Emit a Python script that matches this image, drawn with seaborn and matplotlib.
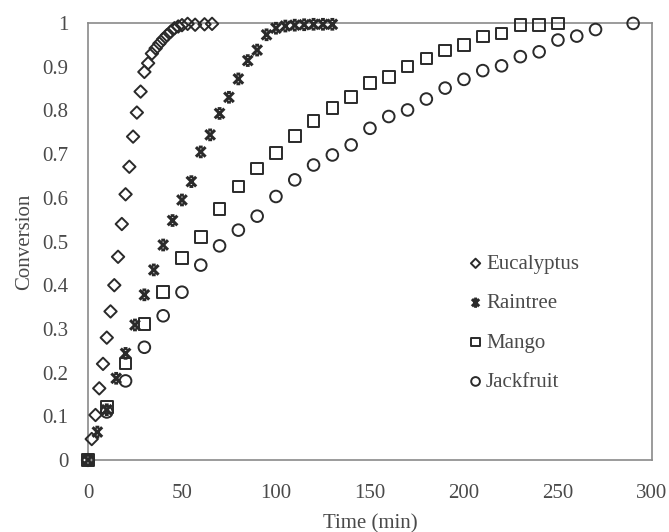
import numpy as np
import pandas as pd
import matplotlib
matplotlib.use("Agg")
import matplotlib.pyplot as plt
from matplotlib.path import Path
from matplotlib.ticker import FuncFormatter, MultipleLocator
import seaborn as sns

# values
euc_time = [0, 2, 4, 6, 8, 10, 12, 14, 16, 18, 20, 22, 24, 26, 28, 30, 32, 34,
            36, 38, 40, 42, 44, 46, 48, 50, 53, 57, 62, 66]
euc_conv = [0, 0.048, 0.103, 0.164, 0.22, 0.28, 0.34, 0.40, 0.465, 0.54, 0.608,
            0.671, 0.74, 0.795, 0.843, 0.888, 0.908, 0.93, 0.942, 0.953, 0.963,
            0.972, 0.98, 0.988, 0.992, 0.995, 0.998, 0.996, 0.997, 0.998]

rain_time = [0, 5, 10, 15, 20, 25, 30, 35, 40, 45, 50, 55, 60, 65, 70, 75, 80,
             85, 90, 95, 100, 105, 110, 115, 120, 125, 130]
rain_conv = [0, 0.064, 0.115, 0.187, 0.244, 0.309, 0.378, 0.435, 0.492, 0.548,
             0.595, 0.637, 0.705, 0.744, 0.793, 0.83, 0.872, 0.914, 0.938,
             0.973, 0.988, 0.993, 0.995, 0.996, 0.997, 0.997, 0.997]

mango_time = [0, 10, 20, 30, 40, 50, 60, 70, 80, 90, 100, 110, 120, 130, 140,
              150, 160, 170, 180, 190, 200, 210, 220, 230, 240, 250]
mango_conv = [0, 0.122, 0.221, 0.311, 0.385, 0.462, 0.511, 0.574, 0.626, 0.667,
              0.703, 0.741, 0.776, 0.805, 0.831, 0.862, 0.876, 0.9, 0.919,
              0.937, 0.95, 0.969, 0.976, 0.995, 0.995, 0.999]

jack_time = [0, 10, 20, 30, 40, 50, 60, 70, 80, 90, 100, 110, 120, 130, 140,
             150, 160, 170, 180, 190, 200, 210, 220, 230, 240, 250, 260, 270, 290]
jack_conv = [0, 0.11, 0.181, 0.258, 0.33, 0.384, 0.446, 0.49, 0.526, 0.558,
             0.603, 0.641, 0.675, 0.698, 0.721, 0.759, 0.786, 0.801, 0.826,
             0.851, 0.871, 0.891, 0.902, 0.923, 0.934, 0.961, 0.97, 0.985, 0.999]

species = ["Eucalyptus", "Raintree", "Mango", "Jackfruit"]

df = pd.concat([
    pd.DataFrame({"Time": euc_time, "Conversion": euc_conv, "Wood": "Eucalyptus"}),
    pd.DataFrame({"Time": rain_time, "Conversion": rain_conv, "Wood": "Raintree"}),
    pd.DataFrame({"Time": mango_time, "Conversion": mango_conv, "Wood": "Mango"}),
    pd.DataFrame({"Time": jack_time, "Conversion": jack_conv, "Wood": "Jackfruit"}),
])

# bold X with short caps top and bottom, like the excel star marker
star = Path(
    [(-1, -1), (1, 1), (-1, 1), (1, -1), (-0.4, 1), (0.4, 1), (-0.4, -1), (0.4, -1)],
    [Path.MOVETO, Path.LINETO, Path.MOVETO, Path.LINETO,
     Path.MOVETO, Path.LINETO, Path.MOVETO, Path.LINETO],
)
markers = {"Eucalyptus": "D", "Raintree": star, "Mango": "s", "Jackfruit": "o"}
sizes = {"Eucalyptus": 40, "Raintree": 48, "Mango": 70, "Jackfruit": 70}
widths = {"Eucalyptus": 1.4, "Raintree": 2.2, "Mango": 1.4, "Jackfruit": 1.4}

sns.set_style("white")
plt.rcParams["font.family"] = ["Liberation Serif", "DejaVu Serif"]
txt = "#4a4a4a"
spine = "#8a8a8a"
ink = "#2a2a2a"

fig = plt.figure(figsize=(6.69, 5.32), dpi=100)
ax = fig.add_axes([0.1315, 0.1353, 0.843, 0.8215])

for sp in species:
    sub = df[df["Wood"] == sp]
    sns.scatterplot(data=sub, x="Time", y="Conversion", marker=markers[sp],
                    s=sizes[sp], facecolors="none", edgecolor=ink,
                    linewidth=widths[sp], clip_on=False, zorder=3, ax=ax, label=sp)

ax.set_xlim(0, 300)
ax.set_ylim(0, 1)
ax.xaxis.set_major_locator(MultipleLocator(50))
ax.yaxis.set_major_locator(MultipleLocator(0.1))
ax.yaxis.set_major_formatter(FuncFormatter(lambda v, p: f"{v:g}"))
ax.tick_params(direction="in", length=5, width=1, color=spine,
               labelsize=15, labelcolor=txt)
ax.tick_params(axis="x", pad=17)
ax.tick_params(axis="y", pad=14)
for s in ax.spines.values():
    s.set_color(spine)
    s.set_linewidth(1.2)

ax.set_xlabel("Time (min)", fontsize=15, color=txt, labelpad=8)
ax.set_ylabel("Conversion", fontsize=15, color=txt, labelpad=6)

ax.legend(loc="upper left", bbox_to_anchor=(0.654, 0.49), frameon=False,
          fontsize=15, labelspacing=0.95, handletextpad=0.0,
          handlelength=1.0, markerscale=0.75, labelcolor=txt,
          borderaxespad=0)

fig.savefig("out.png", dpi=100)
